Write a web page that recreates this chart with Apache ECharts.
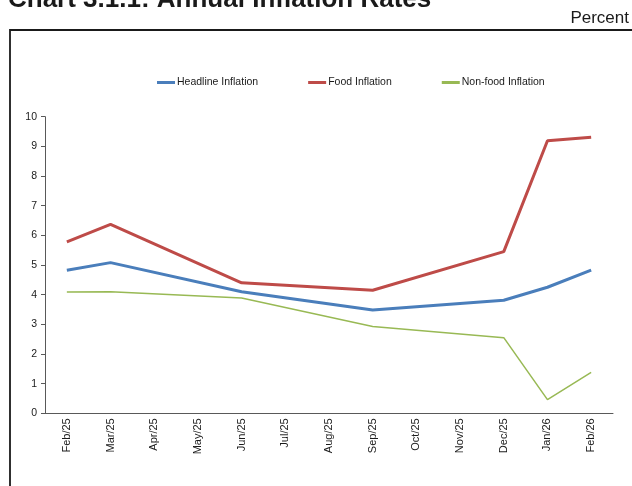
<!DOCTYPE html>
<html>
<head>
<meta charset="utf-8">
<script src="https://cdn.jsdelivr.net/npm/echarts@6/dist/echarts.min.js"></script>
<style>
html,body{margin:0;padding:0;background:#fff;}
#chart{width:632px;height:486px;}
</style>
</head>
<body>
<div id="chart"></div>
<script>
const categories = ['Feb/25','Mar/25','Apr/25','May/25','Jun/25','Jul/25','Aug/25','Sep/25','Oct/25','Nov/25','Dec/25','Jan/26','Feb/26'];
const headline = [4.82, 5.08, null, null, 4.10, null, null, 3.48, null, null, 3.81, 4.25, 4.83];
const food     = [5.78, 6.37, null, null, 4.40, null, null, 4.15, null, null, 5.45, 9.19, 9.31];
const nonFood  = [4.09, 4.10, null, null, 3.89, null, null, 2.93, null, null, 2.55, 0.46, 1.38];
const yTicks = [0,1,2,3,4,5,6,7,8,9,10];

const chart = echarts.init(document.getElementById('chart'));
const font = 'Liberation Sans, Arial, sans-serif';
chart.setOption({
  animation: false,
  backgroundColor: '#fff',
  graphic: [
    {type:'text', left: 8, top: -13, style:{text:'Chart 3.1.1: Annual Inflation Rates', font:'bold 26px Liberation Sans, Arial, sans-serif', fill:'#1a1a1a'}},
    {type:'text', right: 3, top: 10, style:{text:'Percent', font:'17px Liberation Sans, Arial, sans-serif', fill:'#1a1a1a'}},
    {type:'rect', shape:{x:10, y:30, width:640, height:480}, style:{fill:'none', stroke:'#1a1a1a', lineWidth:1.8}, silent:true}
  ],
  legend: {
    left: 152, top: 72,
    itemWidth: 18, itemHeight: 3, itemGap: 50,
    icon: 'rect',
    textStyle: {fontFamily: font, fontSize: 10.5, color:'#1a1a1a', padding:[0,0,0,-3]},
    data: ['Headline Inflation','Food Inflation','Non-food Inflation']
  },
  grid: {left: 45, right: 19, top: 116.7, bottom: 72.7, containLabel: false},
  xAxis: {
    type: 'category',
    data: categories,
    boundaryGap: true,
    axisLine: {lineStyle:{color:'#595959', width:1}},
    axisTick: {alignWithLabel:false, length:4, lineStyle:{color:'#595959'}},
    axisLabel: {rotate: 90, fontFamily: font, fontSize: 11, color:'#1a1a1a', margin: 5, interval: 0},
    splitLine: {show:false}
  },
  yAxis: {
    type: 'value',
    min: yTicks[0], max: yTicks[yTicks.length-1], interval: 1,
    axisLine: {show:true, lineStyle:{color:'#595959', width:1}},
    axisTick: {show:true, length:4, lineStyle:{color:'#595959'}},
    axisLabel: {fontFamily: font, fontSize: 10.5, color:'#1a1a1a', margin: 8},
    splitLine: {show:false}
  },
  series: [
    {name:'Headline Inflation', type:'line', data: headline, connectNulls:true, showSymbol:false, symbol:'none',
     itemStyle:{color:'#4a7ebb'}, lineStyle:{color:'#4a7ebb', width:3}},
    {name:'Food Inflation', type:'line', data: food, connectNulls:true, showSymbol:false, symbol:'none',
     itemStyle:{color:'#be4b48'}, lineStyle:{color:'#be4b48', width:3}},
    {name:'Non-food Inflation', type:'line', data: nonFood, connectNulls:true, showSymbol:false, symbol:'none',
     itemStyle:{color:'#98b954'}, lineStyle:{color:'#98b954', width:1.5}}
  ]
});
</script>
</body>
</html>
